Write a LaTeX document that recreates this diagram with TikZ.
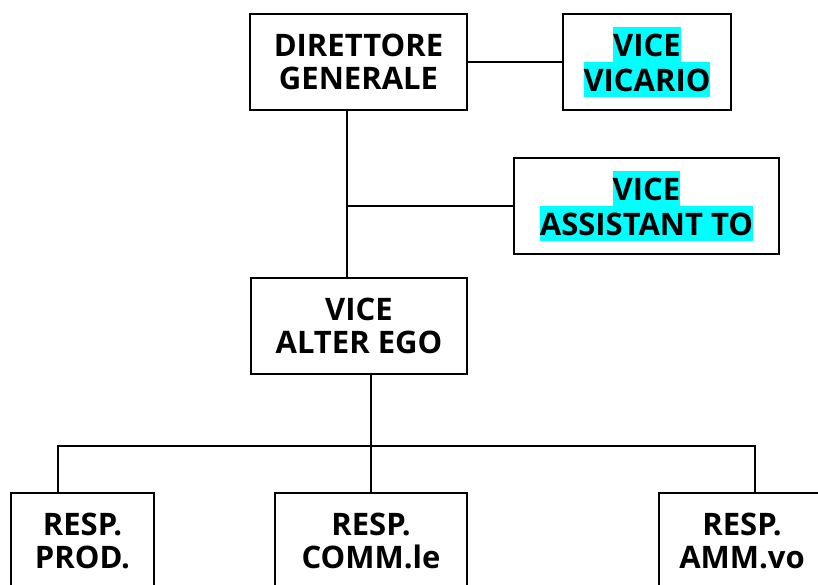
\documentclass[tikz,border=0pt]{standalone}
\usepackage{fontspec}
\setmainfont{Open Sans}
\usetikzlibrary{positioning}
\definecolor{hlcyan}{RGB}{0,255,255}
\newcommand{\hlline}[1]{{\setlength{\fboxsep}{0pt}\colorbox{hlcyan}{\rule[-3pt]{0pt}{17.5pt}#1}}}

\begin{document}
\begin{tikzpicture}[x=0.5pt, y=-0.5pt,
    orgbox/.style={draw, line width=1pt, minimum height=48pt, inner sep=0pt,
      align=center, font=\fontsize{15.5}{16.5}\selectfont\bfseries},
    hlbox/.style={orgbox, font=\fontsize{15.5}{17.5}\selectfont\bfseries}]
  \useasboundingbox (0,0) rectangle (818,584);
  \clip (0,0) rectangle (818,584);
  % top level
  \node[orgbox, minimum width=108.5pt] (dg) at (358.5,61.5) {DIRETTORE\\GENERALE};
  \node[hlbox, minimum width=84pt] (vicario) at (647,62) {\hlline{VICE}\\\hlline{VICARIO}};
  \node[hlbox, minimum width=132.5pt] (assistant) at (646.5,206) {\hlline{VICE}\\\hlline{ASSISTANT TO}};
  \node[orgbox, minimum width=108pt] (alterego) at (359,325.5) {VICE\\ALTER EGO};
  % departments
  \node[orgbox, minimum width=71.5pt] (prod) at (82.5,541) {RESP.\\PROD.};
  \node[orgbox, minimum width=96pt] (comm) at (371,541) {RESP.\\COMM.le};
  \node[orgbox, minimum width=83pt] (amm) at (742,541) {RESP.\\AMM.vo};
  % links
  \coordinate (tee) at (347,206);
  \coordinate (busL) at (58,446);
  \coordinate (busR) at (755,446);
  \draw[line width=1pt] (dg.east) -- (dg.east -| vicario.west);
  \draw[line width=1pt] (dg.south -| tee) -- (alterego.north -| tee);
  \draw[line width=1pt] (assistant.west) -- (tee);
  \draw[line width=1pt] (alterego.south -| comm.north) -- (comm.north);
  \draw[line width=1pt] (prod.north -| busL) -- (busL) -- (busR) -- (amm.north -| busR);
\end{tikzpicture}
\end{document}
